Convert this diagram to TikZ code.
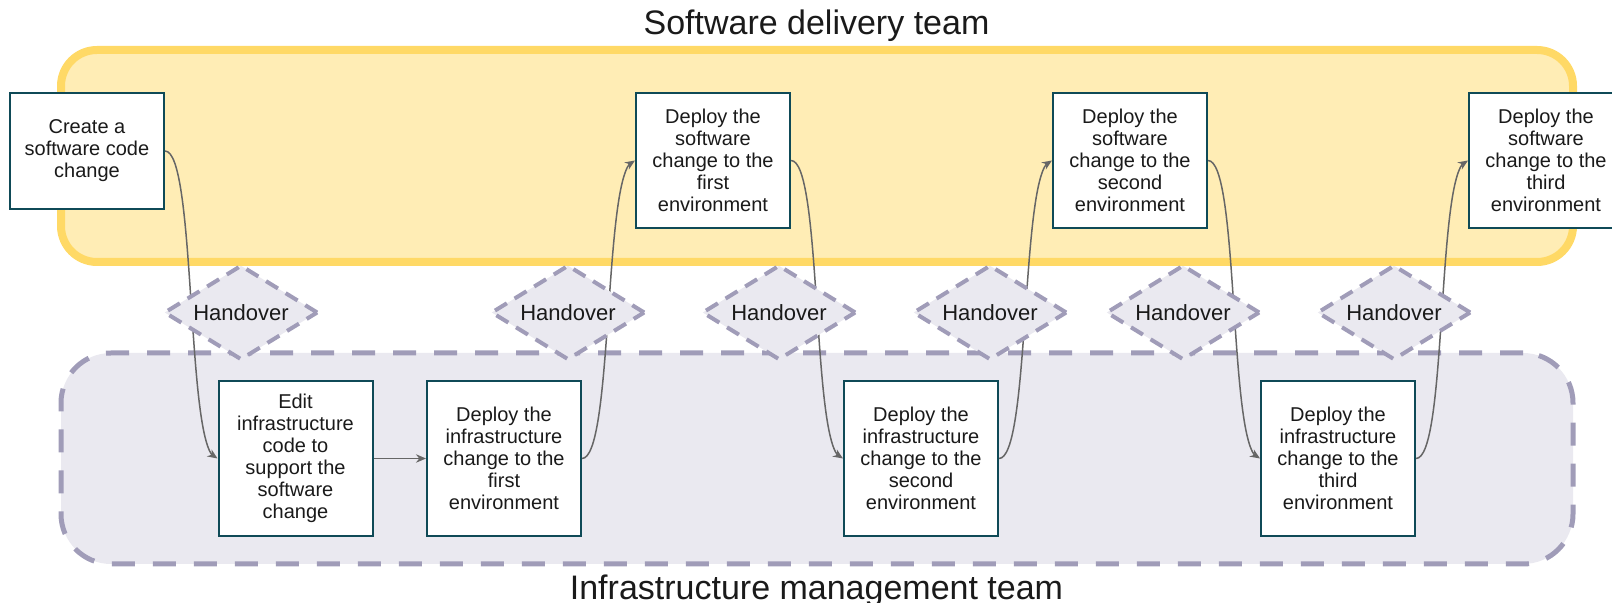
\documentclass[tikz,border=0pt]{standalone}
\usepackage{fontspec}
\setmainfont{Liberation Sans}
\usetikzlibrary{shapes.geometric,arrows.meta,bending}

\definecolor{laneyellow}{HTML}{FFEDB5}
\definecolor{laneyellowline}{HTML}{FFD966}
\definecolor{lanegray}{HTML}{EAE9F0}
\definecolor{lanegrayline}{HTML}{A09CB8}
\definecolor{boxline}{HTML}{0F4A57}
\definecolor{linkgray}{HTML}{666666}
\definecolor{ink}{HTML}{1A1A1A}

\begin{document}
\begin{tikzpicture}[x=0.5pt,y=-0.5pt,
  every node/.style={text=ink},
  lanetitle/.style={anchor=base, inner sep=0pt, font=\fontsize{17}{20}\selectfont},
  swlane/.style={draw=laneyellowline, fill=laneyellow, line width=4pt,
    rounded corners=18pt, minimum width=756pt, minimum height=106pt},
  infralane/.style={draw=lanegrayline, fill=lanegray, line width=2.5pt,
    dash pattern=on 11.5pt off 9pt, rounded corners=25pt,
    minimum width=756pt, minimum height=105.5pt},
  stepbox/.style={draw=boxline, line width=1pt, fill=white, minimum width=77pt,
    align=center, inner sep=0pt, font=\fontsize{10}{11}\selectfont},
  handover/.style={diamond, aspect=1.6, draw=lanegrayline, fill=lanegray,
    line width=2pt, dash pattern=on 7pt off 4.5pt, minimum width=77pt,
    minimum height=47.5pt, inner sep=0pt, font=\fontsize{11}{13}\selectfont},
  link/.style={draw=linkgray, line width=0.75pt,
    -{Stealth[length=5pt,width=4.2pt,flex]}},
]
\useasboundingbox (0,0) rectangle (1612,603);

% swimlanes and their titles
\node[swlane] (swteam) at (817,156) {};
\node[infralane] (infrateam) at (817,458.5) {};
\node[lanetitle] (swtitle) at (816.5,35) {Software delivery team};
\node[lanetitle] (infratitle) at (816.5,600) {Infrastructure management team};

% process steps
\node[stepbox, minimum height=58pt] (create) at (87,151) {Create a\\software code\\change};
\node[stepbox, minimum height=77.5pt] (edit) at (295.5,458.5) {Edit\\infrastructure\\code to\\support the\\software\\change};
\node[stepbox, minimum height=77.5pt] (infraA) at (504,458.5) {Deploy the\\infrastructure\\change to the\\first\\environment};
\node[stepbox, minimum height=67.5pt] (swA) at (713,160.5) {Deploy the\\software\\change to the\\first\\environment};
\node[stepbox, minimum height=77.5pt] (infraB) at (921,458.5) {Deploy the\\infrastructure\\change to the\\second\\environment};
\node[stepbox, minimum height=67.5pt] (swB) at (1130,160.5) {Deploy the\\software\\change to the\\second\\environment};
\node[stepbox, minimum height=77.5pt] (infraC) at (1338,458.5) {Deploy the\\infrastructure\\change to the\\third\\environment};
\node[stepbox, minimum height=67.5pt] (swC) at (1546,160.5) {Deploy the\\software\\change to the\\third\\environment};

% flow between the steps
\draw[link] (create.east) .. controls +(32,0) and +(-32,0) .. (edit.west);
\draw[link] (edit.east) -- (infraA.west);
\draw[link] (infraA.east) .. controls +(32,0) and +(-32,0) .. (swA.west);
\draw[link] (swA.east) .. controls +(32,0) and +(-32,0) .. (infraB.west);
\draw[link] (infraB.east) .. controls +(32,0) and +(-32,0) .. (swB.west);
\draw[link] (swB.east) .. controls +(32,0) and +(-32,0) .. (infraC.west);
\draw[link] (infraC.east) .. controls +(32,0) and +(-32,0) .. (swC.west);

% handover points between the teams
\node[handover] (hoA) at (241,312.5) {Handover};
\node[handover] (hoB) at (568,312.5) {Handover};
\node[handover] (hoC) at (779,312.5) {Handover};
\node[handover] (hoD) at (990,312.5) {Handover};
\node[handover] (hoE) at (1183,312.5) {Handover};
\node[handover] (hoF) at (1394,312.5) {Handover};
\end{tikzpicture}
\end{document}
